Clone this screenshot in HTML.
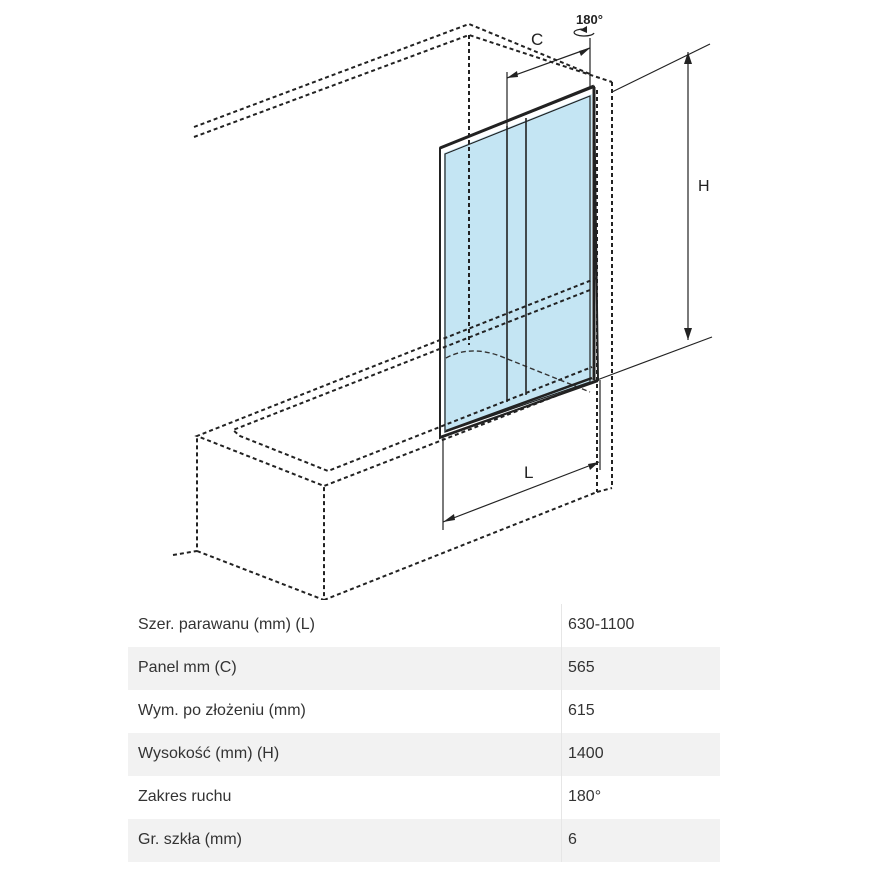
<!DOCTYPE html>
<html><head><meta charset="utf-8"><style>
body{margin:0;background:#fff;width:870px;height:870px;overflow:hidden;font-family:"Liberation Sans",sans-serif}
svg{position:absolute;left:0;top:0}
.t{position:absolute;left:128px;width:592px}
.r{position:absolute;left:0;width:592px;height:43px;font-size:16px;color:#333}
.r span{position:absolute;top:12px}
.a{left:10px}.b{left:440px}
.s{background:#f2f2f2}
.d{position:absolute;left:433px;top:0;width:1px;height:258px;background:#e6e6e6}
</style></head><body>
<svg width="870" height="600" viewBox="0 0 870 600">
<polygon points="444,153 592,94 592,382 444,433" fill="#c4e5f3"/>
<g fill="none" stroke="#222" stroke-width="2" stroke-dasharray="4,3">
<polyline points="194,127 469,24 590,74"/>
<polyline points="194,137 469,35 612,82"/>
<line x1="469" y1="35" x2="469" y2="345"/>
<line x1="597" y1="90" x2="597" y2="492"/>
<line x1="612" y1="82" x2="612" y2="488"/>
<line x1="597" y1="492" x2="612" y2="488"/>
<polyline points="597,278 197,436 324,486 597,380"/>
<polyline points="590,290 233,430 240,436 328,471 592,367"/>
<polyline points="173,555 197,551 197,436"/>
<polyline points="197,551 324,600 324,486"/>
<line x1="324" y1="600" x2="597" y2="492"/>
</g>
<g fill="none" stroke="#333" stroke-width="1.4" stroke-dasharray="5,3">
<path d="M446 358 Q470 345 500 356 L590 392"/>
</g>
<g fill="none" stroke="#222">
<polygon points="440,148 594,87 598,380 440,438" stroke-width="2"/>
<polygon points="445,154 590,96 590,382 445,432" stroke-width="1.2"/>
<line x1="440" y1="148" x2="594" y2="86" stroke-width="3"/>
<line x1="507" y1="126" x2="507" y2="402" stroke-width="1.6"/>
<line x1="526" y1="118" x2="526" y2="395" stroke-width="1.6"/>
<line x1="446" y1="431" x2="592" y2="378" stroke-width="2.5"/>
<line x1="594" y1="87" x2="594" y2="380" stroke-width="3"/>
<line x1="440" y1="437" x2="598" y2="381" stroke-width="2"/>
</g>
<g stroke="#222" stroke-width="1.2" fill="none">
<line x1="507" y1="72" x2="507" y2="126"/>
<line x1="590" y1="38" x2="590" y2="88"/>
<line x1="507" y1="78" x2="590" y2="48"/>
<line x1="612" y1="92" x2="710" y2="44"/>
<line x1="597" y1="380" x2="712" y2="337"/>
<line x1="688" y1="52" x2="688" y2="340"/>
<line x1="443" y1="437" x2="443" y2="530"/>
<line x1="600" y1="380" x2="600" y2="470"/>
<line x1="443" y1="522" x2="599" y2="462"/>
<path d="M594 33 A10 3.5 0 1 1 584 29"/>
</g>
<g fill="#222">
<polygon points="507,78 517,71 518,77"/>
<polygon points="590,48 579,51 581,56"/>
<polygon points="688,52 684,64 692,64"/>
<polygon points="688,340 684,328 692,328"/>
<polygon points="443,522 454,514 455,520"/>
<polygon points="599,462 588,464 590,470"/>
<polygon points="580,30 587,26 587,33"/>
</g>
<g font-family="Liberation Sans,sans-serif" fill="#222">
<text x="531" y="45" font-size="17">C</text>
<text x="576" y="24" font-size="13" font-weight="bold">180°</text>
<text x="698" y="191" font-size="16">H</text>
<text x="524" y="478" font-size="17">L</text>
</g>
</svg>
<div class="t" style="top:604px">
<div class="r" style="top:0"><span class="a">Szer. parawanu (mm) (L)</span><span class="b">630-1100</span></div>
<div class="r s" style="top:43px"><span class="a">Panel mm (C)</span><span class="b">565</span></div>
<div class="r" style="top:86px"><span class="a">Wym. po złożeniu (mm)</span><span class="b">615</span></div>
<div class="r s" style="top:129px"><span class="a">Wysokość (mm) (H)</span><span class="b">1400</span></div>
<div class="r" style="top:172px"><span class="a">Zakres ruchu</span><span class="b">180°</span></div>
<div class="r s" style="top:215px"><span class="a">Gr. szkła (mm)</span><span class="b">6</span></div>
<div class="d"></div>
</div>
</body></html>
